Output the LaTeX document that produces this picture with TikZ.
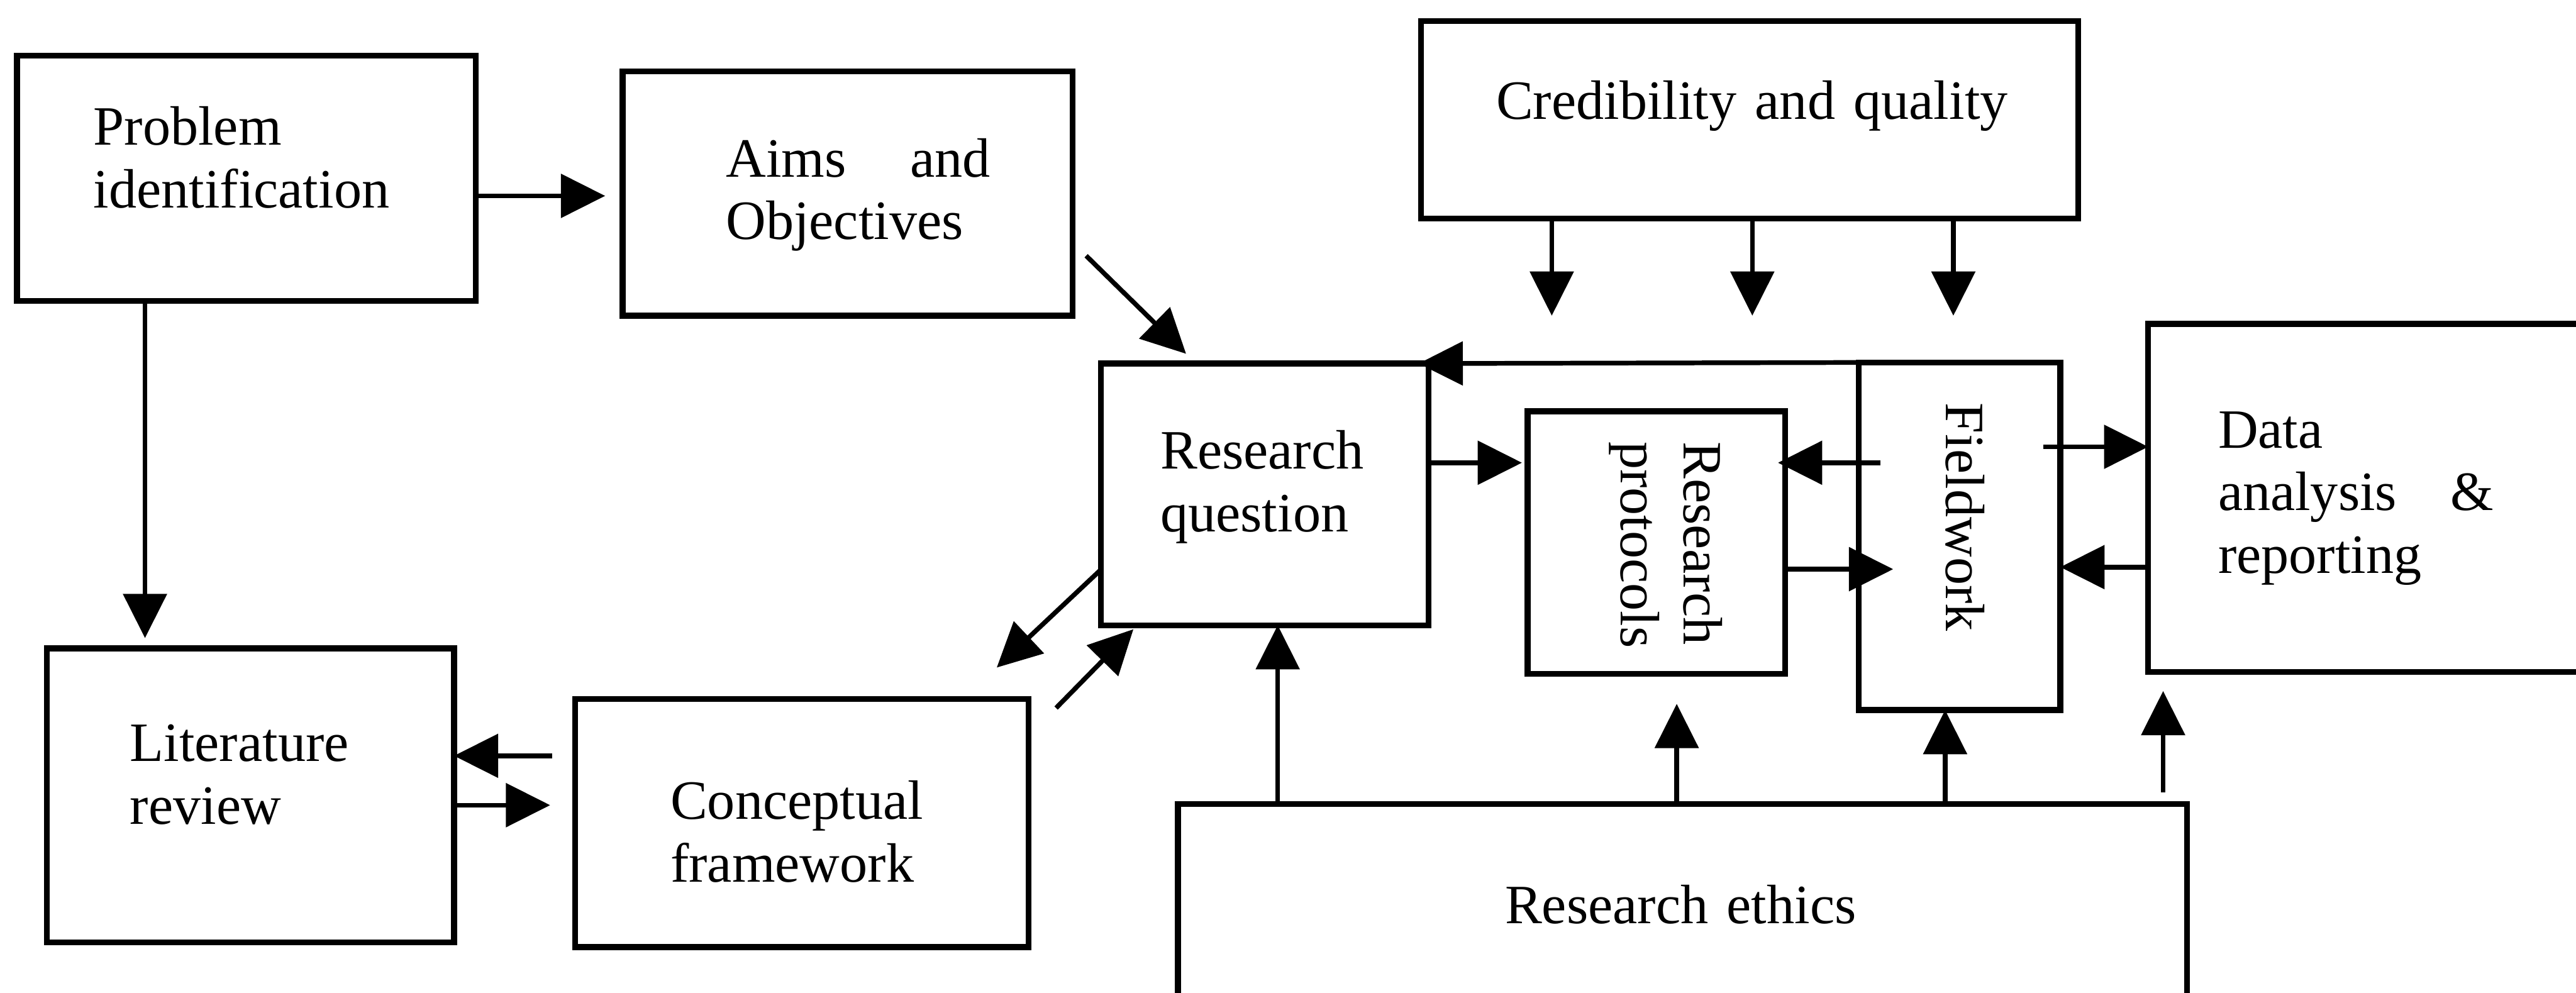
\documentclass[tikz,border=0pt]{standalone}
\usepackage{fontspec}
\setmainfont{Liberation Serif}
\usetikzlibrary{arrows.meta,calc}

\tikzset{
  box/.style={draw, line width=3.2pt, rectangle, inner sep=0pt, outer sep=0pt, anchor=north west},
  lbl/.style={anchor=base west, inner sep=0pt, outer sep=0pt, align=left, text width=#1,
              font=\fontsize{30.7}{34.7}\selectfont},
  lbl/.default=12cm,
  arr/.style={line width=2.6pt, -{Triangle[length=0.86cm,width=0.84cm]}},
}

\begin{document}
\begin{tikzpicture}
\useasboundingbox (0,0) rectangle (50.1,-19.31);
\clip (0,0) rectangle (50.1,-19.31);

% boxes
\node[box, minimum width=8.92cm,  minimum height=4.77cm] (prob)  at (0.33,-1.08)  {};
\node[box, minimum width=8.75cm,  minimum height=4.75cm] (aims)  at (12.11,-1.39) {};
\node[box, minimum width=12.78cm, minimum height=3.84cm] (cred)  at (27.64,-0.41) {};
\node[box, minimum width=6.37cm,  minimum height=5.09cm] (rq)    at (21.41,-7.07) {};
\node[box, minimum width=5.01cm,  minimum height=5.11cm] (prot)  at (29.71,-8.00) {};
\node[box, minimum width=3.92cm,  minimum height=6.76cm] (field) at (36.15,-7.05) {};
\node[box, minimum width=9.00cm,  minimum height=6.77cm] (data)  at (41.78,-6.30) {};
\node[box, minimum width=7.92cm,  minimum height=5.72cm] (lit)   at (0.91,-12.61) {};
\node[box, minimum width=8.81cm,  minimum height=4.82cm] (cf)    at (11.19,-13.60) {};
\node[box, minimum width=19.62cm, minimum height=5.00cm] (eth)   at (22.91,-15.64) {};

% labels
\node[lbl] (tprob)  at (1.82,-2.82)  {Problem\\identification};
\node[lbl=5.14cm] (taims) at (14.12,-3.44) {Aims\hfill and\\Objectives};
\node[lbl] (tcred)  at (29.10,-2.32) {Credibility and quality};
\node[lbl] (trq)    at (22.57,-9.12) {Research\\question};
\node[lbl, rotate=-90] (tprot)  at (32.75,-8.59) {Research\\protocols};
\node[lbl, rotate=-90] (tfield) at (37.85,-7.84) {Fieldwork};
\node[lbl=5.36cm] (tdata) at (43.14,-8.71) {Data\\analysis\hfill\&\\reporting};
\node[lbl] (tlit)   at (2.53,-14.81) {Literature\\review};
\node[lbl] (tcf)    at (13.04,-15.93) {Conceptual\\framework};
\node[lbl] (teth)   at (29.27,-17.96) {Research ethics};

% free ends of the arrows below the credibility box
\coordinate (c1) at (30.18,-6.14);
\coordinate (c2) at (34.08,-6.14);
\coordinate (c3) at (37.99,-6.14);

% connectors
\draw[arr, shorten >=0.34cm] (prob.east |- 0,-3.81) -- (aims.west |- 0,-3.81);
\draw[arr, shorten >=0.2cm]  (prob.south -| 2.82,0) -- (lit.north -| 2.82,0);
\draw[arr, shorten <=0.37cm, shorten >=0.27cm] (aims.east |- 0,-4.715) -- (rq.north -| 23.26,0);
\draw[arr, shorten >=0.9cm] (rq.west |- 0,-11.08) -- (cf.north -| 18.73,0);
\draw[arr, shorten <=0.77cm, shorten >=0.11cm] (cf.east |- 0,-14.32) -- (rq.south -| 22.12,0);
\draw[arr, shorten <=0.45cm] (cf.west |- 0,-14.70) -- (lit.east |- 0,-14.70);
\draw[arr, shorten >=0.49cm] (lit.east |- 0,-15.66) -- (cf.west |- 0,-15.66);

\draw[arr] (cred.south -| c1) -- (c1);
\draw[arr] (cred.south -| c2) -- (c2);
\draw[arr] (cred.south -| c3) -- (c3);

\draw[arr, shorten >=-0.19cm] (field.north -| 38.72,0) -- (field.north west) -- (rq.north east);
\draw[arr, shorten >=0.11cm] (rq.east |- 0,-9.00) -- (prot.west |- 0,-9.00);
\draw[arr] ($(field.west |- 0,-9.00)+(0.42,0)$) -- ($(prot.east |- 0,-9.00)+(-0.14,0)$);
\draw[arr] (prot.east |- 0,-11.07) -- ($(field.west |- 0,-11.07)+(0.67,0)$);
\draw[arr] ($(field.east |- 0,-8.69)+(-0.33,0)$) -- (data.west |- 0,-8.69);
\draw[arr] (data.west |- 0,-11.03) -- (field.east |- 0,-11.03);

\draw[arr] (eth.north -| 24.85,0) -- (rq.south -| 24.85,0);
\draw[arr, shorten >=0.58cm] (eth.north -| 32.61,0) -- (prot.south -| 32.61,0);
\draw[arr] (eth.north -| 37.83,0) -- (field.south -| 37.83,0);
\draw[arr, shorten <=0.23cm, shorten >=0.37cm] (eth.north -| 42.07,0) -- (data.south -| 42.07,0);
\end{tikzpicture}
\end{document}
